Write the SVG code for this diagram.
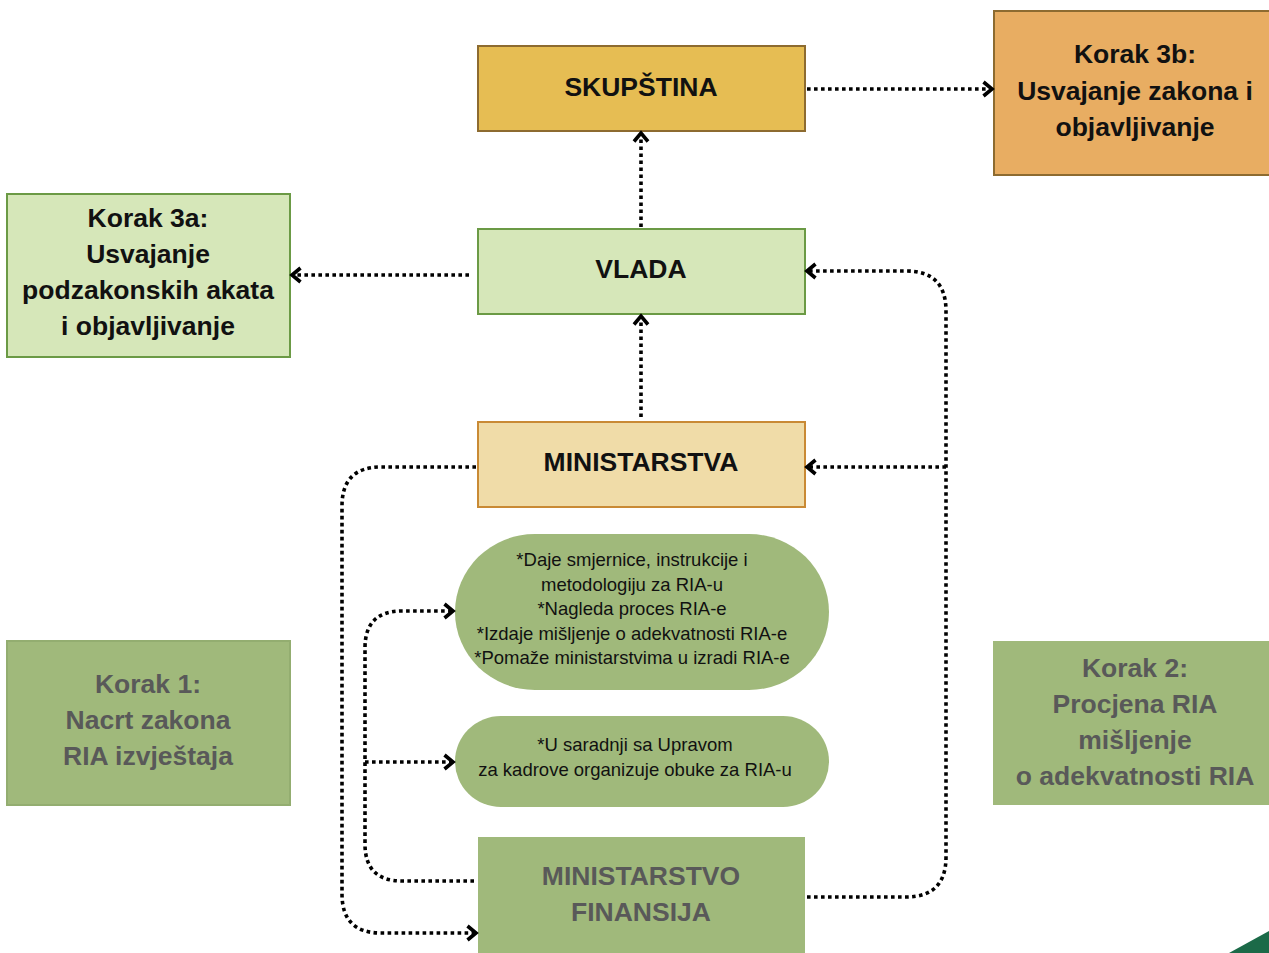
<svg xmlns="http://www.w3.org/2000/svg" width="1269" height="953" viewBox="0 0 1269 953">
<defs>
<marker id="arr" viewBox="0 0 14 18" refX="11" refY="9" markerWidth="14" markerHeight="18" markerUnits="userSpaceOnUse" orient="auto">
<path d="M2.5,2 L11,9 L2.5,16" fill="none" stroke="#000" stroke-width="3.6" stroke-linejoin="miter"/>
</marker>
<style>
.bt{font-family:"Liberation Sans",Arial,sans-serif;font-weight:bold;font-size:26.5px;text-anchor:middle;fill:#111}
.gt{font-family:"Liberation Sans",Arial,sans-serif;font-weight:bold;font-size:26.5px;text-anchor:middle;fill:#595959}
.st{font-family:"Liberation Sans",Arial,sans-serif;font-size:18.5px;text-anchor:middle;fill:#111}
.ca{fill:none;stroke:#000;stroke-width:3.6;stroke-dasharray:3.6 3.4;marker-end:url(#arr)}
.gr{fill:#a0b97b}
</style>
</defs>
<rect width="1269" height="953" fill="#fff"/>
<g id="skupstina"><rect x="478" y="46" width="327" height="85" fill="#e6bd53" stroke="#8d6b30" stroke-width="2"/><text class="bt" x="641" y="96">SKUPŠTINA</text></g>
<g id="korak3b"><rect x="994" y="11" width="285" height="164" fill="#e8ad62" stroke="#8d6b30" stroke-width="2"/><text class="bt" x="1135" y="63">Korak 3b:</text><text class="bt" x="1135" y="99.5">Usvajanje zakona i</text><text class="bt" x="1135" y="136">objavljivanje</text></g>
<g id="vlada"><rect x="478" y="229" width="327" height="85" fill="#d6e7b9" stroke="#6b9a45" stroke-width="2"/><text class="bt" x="641" y="278">VLADA</text></g>
<g id="korak3a"><rect x="7" y="194" width="283" height="163" fill="#d6e7b9" stroke="#6b9a45" stroke-width="2"/><text class="bt" x="148" y="227">Korak 3a:</text><text class="bt" x="148" y="263">Usvajanje</text><text class="bt" x="148" y="299">podzakonskih akata</text><text class="bt" x="148" y="335">i objavljivanje</text></g>
<g id="ministarstva"><rect x="478" y="422" width="327" height="85" fill="#f0dca8" stroke="#c98a35" stroke-width="2"/><text class="bt" x="641" y="471">MINISTARSTVA</text></g>
<g id="uloga1"><rect x="455" y="534" width="374" height="156" rx="80" ry="78" class="gr"/><text class="st" x="632" y="566">*Daje smjernice, instrukcije i</text><text class="st" x="632" y="590.5">metodologiju za RIA-u</text><text class="st" x="632" y="615">*Nagleda proces RIA-e</text><text class="st" x="632" y="639.5">*Izdaje mišljenje o adekvatnosti RIA-e</text><text class="st" x="632" y="664">*Pomaže ministarstvima u izradi RIA-e</text></g>
<g id="uloga2"><rect x="455" y="716" width="374" height="91" rx="46" ry="45.5" class="gr"/><text class="st" x="635" y="751">*U saradnji sa Upravom</text><text class="st" x="635" y="776">za kadrove organizuje obuke za RIA-u</text></g>
<g id="korak1"><rect x="7" y="641" width="283" height="164" class="gr" stroke="#93ad70" stroke-width="2"/><text class="gt" x="148" y="693">Korak 1:</text><text class="gt" x="148" y="729">Nacrt zakona</text><text class="gt" x="148" y="765">RIA izvještaja</text></g>
<g id="korak2"><rect x="993" y="641" width="280" height="164" class="gr"/><text class="gt" x="1135" y="677">Korak 2:</text><text class="gt" x="1135" y="713">Procjena RIA</text><text class="gt" x="1135" y="749">mišljenje</text><text class="gt" x="1135" y="785">o adekvatnosti RIA</text></g>
<g id="mfin"><rect x="478" y="837" width="327" height="120" class="gr"/><text class="gt" x="641" y="885">MINISTARSTVO</text><text class="gt" x="641" y="921">FINANSIJA</text></g>
<g id="connectors">
<path class="ca" d="M807,89 H992"/>
<path class="ca" d="M641,227 V133"/>
<path class="ca" d="M469,275 H292"/>
<path class="ca" d="M641,417 V316"/>
<path class="ca" d="M807,897 H906 Q946,897 946,857 V311 Q946,271 906,271 H807"/>
<path class="ca" d="M946,467 H807"/>
<path class="ca" d="M476,467 H381 Q342,467 342,506 V894 Q342,933 381,933 H476"/>
<path class="ca" d="M474,881 H402 Q365,881 365,844 V648 Q365,611 402,611 H453"/>
<path class="ca" d="M365,762 H453"/>
</g>
<polygon points="1229,953 1269,931 1269,953" fill="#1b6a48"/>
</svg>
